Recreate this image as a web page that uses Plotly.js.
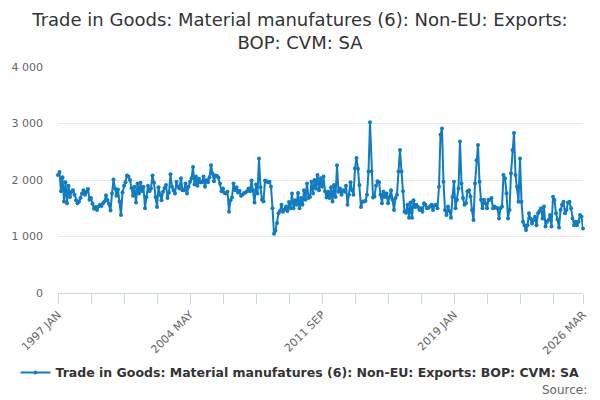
<!DOCTYPE html>
<html>
<head>
<meta charset="utf-8">
<script src="https://cdn.plot.ly/plotly-3.0.1.min.js"></script>
<style>
  html, body { margin: 0; padding: 0; background: #fff; }
  #chart { width: 600px; height: 400px; }
</style>
</head>
<body>
<div id="chart"></div>
<script>
// monthly values, 1997 JAN .. 2026 MAR (one array per year)
var y1997 = [2090, 2140, 1800, 2050, 1620, 1960, 1590, 1900, 1700, 1790, 1820, 1740];
var y1998 = [1640, 1590, 1620, 1680, 1760, 1820, 1740, 1790, 1840, 1650, 1680, 1580];
var y1999 = [1490, 1520, 1470, 1530, 1560, 1540, 1590, 1620, 1730, 1640, 1580, 1460];
var y2000 = [1760, 2010, 1850, 1720, 1830, 1620, 1380, 1780, 1900, 1960, 2080, 2060];
var y2001 = [2000, 1860, 1720, 1880, 1600, 1940, 1760, 1950, 1800, 1880, 1500, 1700];
var y2002 = [1900, 1800, 1850, 2080, 1950, 1700, 1520, 1870, 1740, 1640, 1790, 1860];
var y2003 = [1910, 1680, 1780, 2100, 1880, 1820, 1760, 1970, 1880, 1850, 2030, 1820];
var y2004 = [1820, 1940, 1760, 1880, 1970, 2030, 2230, 1920, 2060, 1900, 2020, 1960];
var y2005 = [1960, 2060, 1880, 2000, 1960, 2050, 2260, 2110, 1980, 2080, 2070, 2040];
var y2006 = [1940, 1800, 1850, 1770, 1760, 1790, 1440, 1640, 1690, 1940, 1820, 1870];
var y2007 = [1780, 1810, 1720, 1740, 1770, 1780, 1800, 1850, 1800, 1990, 1820, 1600];
var y2008 = [1920, 1760, 2380, 1870, 1650, 1620, 1990, 1980, 1960, 1970, 1880, 1500];
var y2009 = [1050, 1100, 1240, 1410, 1450, 1560, 1440, 1480, 1530, 1450, 1610, 1500];
var y2010 = [1760, 1500, 1640, 1560, 1770, 1500, 1680, 1560, 1820, 1650, 1940, 1680];
var y2011 = [1700, 1970, 1760, 2000, 1850, 2090, 1820, 2030, 1880, 2060, 1800, 1690];
var y2012 = [1790, 1680, 1870, 1620, 1910, 1700, 2260, 1790, 1850, 1740, 1820, 1790];
var y2013 = [1900, 1560, 1740, 1960, 1820, 1740, 2210, 2390, 2200, 1910, 1520, 1620];
var y2014 = [1620, 1630, 1740, 2150, 3020, 2150, 1690, 1710, 1900, 1980, 1960, 1740];
var y2015 = [1590, 1790, 1700, 1760, 1590, 1700, 1820, 1650, 1470, 1680, 1740, 2150];
var y2016 = [2530, 2150, 1800, 1440, 1420, 1560, 1330, 1600, 1330, 1640, 1520, 1560];
var y2017 = [1520, 1470, 1500, 1440, 1590, 1560, 1500, 1510, 1530, 1560, 1470, 1550];
var y2018 = [1560, 1500, 1880, 2800, 2910, 1970, 1470, 1380, 1530, 1450, 1330, 1700];
var y2019 = [1970, 1500, 1650, 1850, 2680, 1940, 1680, 1560, 1590, 1800, 1820, 1710];
var y2020 = [1470, 1290, 1940, 2350, 2620, 1970, 1650, 1500, 1650, 1590, 1500, 1650];
var y2021 = [1650, 1680, 1500, 1530, 1510, 1500, 1320, 1500, 1530, 2090, 2030, 1765];
var y2022 = [1320, 1470, 2120, 2530, 2830, 2090, 1880, 1615, 2380, 1615, 1260, 1200];
var y2023 = [1115, 1200, 1410, 1320, 1230, 1290, 1350, 1200, 1410, 1450, 1500, 1320];
var y2024 = [1530, 1175, 1260, 1290, 1380, 1175, 1705, 1646, 1410, 1300, 1160, 1470];
var y2025 = [1560, 1615, 1410, 1470, 1600, 1615, 1500, 1320, 1200, 1260, 1200, 1260];
var y2026 = [1380, 1350, 1140];

var tickLabels = ['1997 JAN', '2004 MAY', '2011 SEP', '2019 JAN', '2026 MAR'];
var tickIndex = [0, 88, 176, 264, 350];
var seriesName = 'Trade in Goods: Material manufatures (6): Non-EU: Exports: BOP: CVM: SA';

var values = [].concat(y1997, y1998, y1999, y2000, y2001, y2002, y2003, y2004,
  y2005, y2006, y2007, y2008, y2009, y2010, y2011, y2012, y2013, y2014, y2015,
  y2016, y2017, y2018, y2019, y2020, y2021, y2022, y2023, y2024, y2025, y2026);

// month labels for hover text, position index on the x axis
var monthNames = ['JAN','FEB','MAR','APR','MAY','JUN','JUL','AUG','SEP','OCT','NOV','DEC'];
var months = [];
var idx = [];
for (var i = 0; i < values.length; i++) {
  months.push((1997 + Math.floor(i / 12)) + ' ' + monthNames[i % 12]);
  idx.push(i);
}

var trace = {
  x: idx,
  y: values,
  text: months,
  name: seriesName,
  type: 'scatter',
  mode: 'lines+markers',
  line: {color: '#107cc2', width: 2},
  marker: {color: '#107cc2', size: 4},
  cliponaxis: false,
  hoverinfo: 'text+y'
};

var layout = {
  width: 600,
  height: 400,
  font: {family: 'DejaVu Sans, sans-serif', color: '#666666'},
  separators: '. ',
  title: {
    text: 'Trade in Goods: Material manufatures (6): Non-EU: Exports:<br>BOP: CVM: SA',
    font: {size: 18, color: '#333333'},
    x: 0.5, xanchor: 'center',
    y: 0.935, yanchor: 'top', yref: 'container'
  },
  margin: {l: 57.5, r: 17, t: 67, b: 107},
  showlegend: true,
  legend: {
    orientation: 'h',
    x: 0.5, xanchor: 'center', xref: 'container',
    y: 0.068, yanchor: 'middle', yref: 'container',
    font: {size: 12.5, color: '#333333', weight: 'bold'}
  },
  xaxis: {
    type: 'linear',
    range: [0, 350],
    tickvals: tickIndex,
    ticktext: tickLabels,
    tickangle: -45,
    tickfont: {size: 11, color: '#666666'},
    ticks: 'outside', ticklen: 10, tickcolor: '#ccd6eb',
    minor: {tickmode: 'linear', tick0: 0, dtick: 22, ticks: 'outside', ticklen: 10, tickcolor: '#ccd6eb', showgrid: false},
    showline: true, linecolor: '#ccd6eb', linewidth: 1,
    showgrid: false, zeroline: false
  },
  yaxis: {
    range: [0, 4000],
    tickvals: [0, 1000, 2000, 3000, 4000],
    separatethousands: true,
    tickfont: {size: 11, color: '#666666'},
    gridcolor: '#e6e6e6', gridwidth: 1,
    zeroline: false, showline: false,
    ticklabelstandoff: 14
  },
  annotations: [{
    text: 'Source:',
    xref: 'paper', yref: 'paper',
    x: 1.012, xanchor: 'right',
    y: -0.43, yanchor: 'middle',
    showarrow: false,
    font: {size: 12, color: '#666666'}
  }],
  paper_bgcolor: '#ffffff',
  plot_bgcolor: '#ffffff'
};

Plotly.newPlot('chart', [trace], layout, {displayModeBar: false, responsive: false});
</script>
</body>
</html>
